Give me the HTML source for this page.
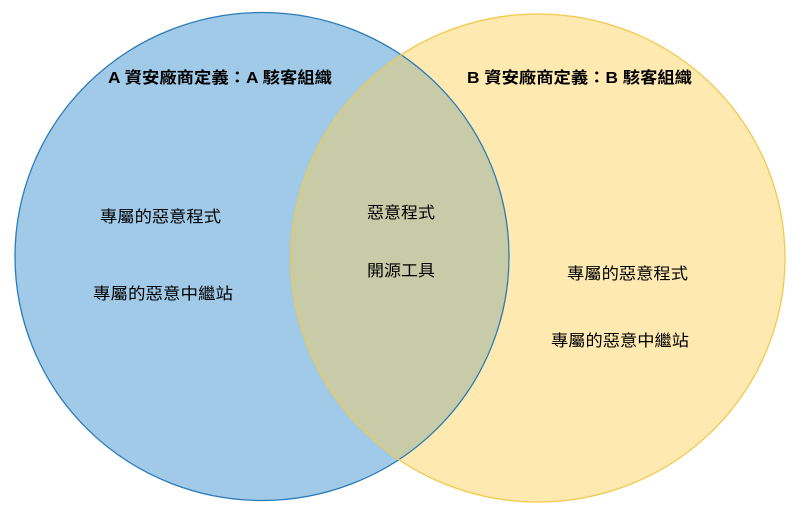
<!DOCTYPE html>
<html><head><meta charset="utf-8"><style>html,body{margin:0;padding:0;background:#fff}svg{display:block}</style></head>
<body>
<svg width="792" height="506" viewBox="0 0 792 506" xmlns="http://www.w3.org/2000/svg" font-family="'Liberation Sans','Noto Sans CJK TC',sans-serif">
<defs><clipPath id="ca"><ellipse cx="262" cy="256.5" rx="247" ry="244"/></clipPath></defs>
<ellipse cx="262" cy="256.5" rx="247" ry="244" fill="#a0cae7"/>
<ellipse cx="538" cy="258" rx="247" ry="244" fill="#fee9b1"/>
<ellipse cx="538" cy="258" rx="247" ry="244" fill="#c7cba8" clip-path="url(#ca)"/>
<ellipse cx="262" cy="256.5" rx="247" ry="244" fill="none" stroke="#2b7bb9" stroke-width="1.3"/>
<ellipse cx="538" cy="258" rx="247" ry="244" fill="none" stroke="#f2c94c" stroke-width="1.3"/>
<g font-size="16" font-weight="bold" fill="#000">
<text x="108" y="83" textLength="224" lengthAdjust="spacingAndGlyphs">A 資安廠商定義：A 駭客組織</text>
<text x="467" y="83" textLength="225" lengthAdjust="spacingAndGlyphs">B 資安廠商定義：B 駭客組織</text>
</g>
<g font-size="16" fill="#000">
<text x="100" y="222" textLength="121" lengthAdjust="spacingAndGlyphs">專屬的惡意程式</text>
<text x="93" y="299" textLength="140" lengthAdjust="spacingAndGlyphs">專屬的惡意中繼站</text>
<text x="367" y="218" textLength="68" lengthAdjust="spacingAndGlyphs">惡意程式</text>
<text x="367" y="276" textLength="68" lengthAdjust="spacingAndGlyphs">開源工具</text>
<text x="567" y="279" textLength="121" lengthAdjust="spacingAndGlyphs">專屬的惡意程式</text>
<text x="551" y="346" textLength="138" lengthAdjust="spacingAndGlyphs">專屬的惡意中繼站</text>
</g>
</svg>
</body></html>
